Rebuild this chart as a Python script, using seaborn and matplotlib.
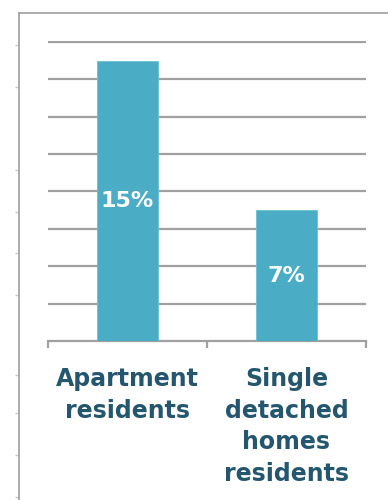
import matplotlib
matplotlib.use("Agg")
import matplotlib.pyplot as plt
import seaborn as sns
import pandas as pd

# data
categories = ["Apartment\nresidents", "Single\ndetached\nhomes\nresidents"]
shares = [15, 7]
bar_labels = ["15%", "7%"]

df = pd.DataFrame({"group": categories, "share": shares})

sns.set_style("white")
plt.rcParams["font.family"] = ["DejaVu Sans"]

W, H = 388, 500
fig = plt.figure(figsize=(W / 100, H / 100), dpi=100)

# outer frame left over from the slide (pixel units)
bg = fig.add_axes([19 / W, 0, 1 - 19 / W, (H - 13) / H])
bg.set_xlim(0, 1)
bg.set_ylim(H, 13)
bg.patch.set_alpha(0)
for s in ["right", "bottom"]:
    bg.spines[s].set_visible(False)
for s in ["left", "top"]:
    bg.spines[s].set_color("#a6a6a6")
    bg.spines[s].set_linewidth(1.3)
bg.set_xticks([])
bg.set_yticks([45, 87, 170, 212, 253, 295, 375, 413, 455, 497])
bg.tick_params(axis="y", length=3, width=1, color="#c8c8c8", labelleft=False, left=True)
bg.set_zorder(0)

# main chart
top_val = 16.08
ax = fig.add_axes([48 / W, (H - 341) / H, (366 - 48) / W, 299 / H * top_val / 16])
ax.set_zorder(1)
ax.patch.set_alpha(0)
sns.barplot(data=df, x="group", y="share", color="#4bacc6", width=0.385,
            saturation=1, ax=ax, zorder=3, edgecolor="#6cc0d6", linewidth=0.6)
ax.set_ylim(0, top_val)
ax.set_xlim(-0.5, 1.5)
ax.set_yticks(range(2, 17, 2))
ax.yaxis.grid(True, color="#a0a0a0", linewidth=1.6)
ax.set_axisbelow(True)
ax.tick_params(axis="y", left=False, labelleft=False)
for s in ["left", "right", "top"]:
    ax.spines[s].set_visible(False)
ax.spines["bottom"].set_color("#a0a0a0")
ax.spines["bottom"].set_linewidth(1.6)

ax.set_xticks([-0.5, 0.5, 1.5])
ax.set_xticklabels([])
ax.tick_params(axis="x", bottom=True, length=5, width=1.6, color="#a0a0a0", direction="out")
for i, c in enumerate(categories):
    ax.text(i, -1.4, c, ha="center", va="top", fontsize=17, fontweight="bold",
            color="#24566e", linespacing=1.4)
ax.set_xlabel("")
ax.set_ylabel("")

ax.bar_label(ax.containers[0], labels=bar_labels, label_type="center",
             color="white", fontsize=16, fontweight="bold")

fig.savefig("out.png", dpi=100)
